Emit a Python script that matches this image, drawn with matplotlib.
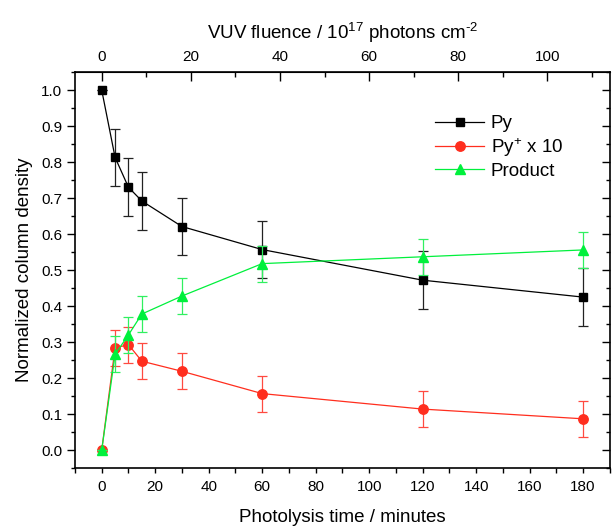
import numpy as np
import matplotlib
matplotlib.use("Agg")
import matplotlib.pyplot as plt
from matplotlib.ticker import MultipleLocator
from matplotlib.lines import TICKLEFT

plt.rcParams['font.family'] = ['Liberation Sans', 'DejaVu Sans']
plt.rcParams['mathtext.fontset'] = 'custom'
plt.rcParams['mathtext.rm'] = 'Liberation Sans'
plt.rcParams['mathtext.it'] = 'Liberation Sans:italic'

# data
time_min = [0, 5, 10, 15, 30, 60, 120, 180]
py = [1.0, 0.813, 0.730, 0.692, 0.621, 0.557, 0.472, 0.425]
py_err = [0.0, 0.08, 0.08, 0.08, 0.08, 0.08, 0.08, 0.08]
pyp = [0.0, 0.284, 0.293, 0.247, 0.219, 0.157, 0.114, 0.087]
pyp_err = [0.0, 0.05, 0.05, 0.05, 0.05, 0.05, 0.05, 0.05]
prod = [0.0, 0.266, 0.320, 0.378, 0.428, 0.518, 0.537, 0.556]
prod_err = [0.0, 0.05, 0.05, 0.05, 0.05, 0.05, 0.05, 0.05]
fluence_per_min = 0.6  # 10^17 photons cm^-2 per minute

fig = plt.figure(figsize=(6.12, 5.26), dpi=100)
ax = fig.add_axes([0.1225, 0.110, 0.874, 0.753])

red = '#ff2e1e'
green = '#00f03c'
c1 = ax.errorbar(time_min, py, yerr=py_err, color='black', marker='s', ms=6, lw=0.9,
                 elinewidth=0.9, capsize=3.5, capthick=0.9, ecolor='#222222', zorder=3)
c2 = ax.errorbar(time_min, pyp, yerr=pyp_err, color=red, marker='o', ms=6.8, lw=0.9,
                 elinewidth=0.9, capsize=3.5, capthick=0.9, ecolor='#ff4a40', zorder=3)
c3 = ax.errorbar(time_min, prod, yerr=prod_err, color=green, marker='^', ms=7.5, lw=0.9,
                 elinewidth=0.9, capsize=3.5, capthick=0.9, ecolor='#30f060', zorder=4)

ax.set_xlim(-10, 190)
ax.set_ylim(-0.05, 1.05)
ax.xaxis.set_major_locator(MultipleLocator(20))
ax.xaxis.set_minor_locator(MultipleLocator(10))
ax.yaxis.set_major_locator(MultipleLocator(0.1))
ax.yaxis.set_minor_locator(MultipleLocator(0.05))
ax.yaxis.set_major_formatter(plt.FormatStrFormatter('%.1f'))
ax.tick_params(which='both', direction='out', labelsize=11, width=1)
ax.tick_params(axis='x', which='both', length=3.6, pad=5)
ax.tick_params(axis='y', which='major', length=5.8)
ax.tick_params(axis='y', which='minor', length=3)
ax.tick_params(axis='y', which='both', right=True, labelright=False)
for s in ax.spines.values():
    s.set_linewidth(1.2)

ax.set_xlabel('Photolysis time / minutes', fontsize=13.5, labelpad=10.5)
ax.set_ylabel('Normalized column density', fontsize=13.5, labelpad=6)

# right side ticks point inward
for t in ax.yaxis.get_major_ticks() + ax.yaxis.get_minor_ticks():
    t.tick2line.set_marker(TICKLEFT)

top = ax.secondary_xaxis('top', functions=(lambda t: t * fluence_per_min,
                                            lambda f: f / fluence_per_min))
top.xaxis.set_major_locator(MultipleLocator(20))
top.xaxis.set_minor_locator(MultipleLocator(10))
top.tick_params(which='both', direction='in', labelsize=11, width=1, pad=6)
top.tick_params(which='major', length=6.5)
top.tick_params(which='minor', length=3.6)
top.set_xlabel('VUV fluence / 10$^{17}$ photons cm$^{\\text{-2}}$', fontsize=13.5, labelpad=8)

ax.legend([c1[0], c2[0], c3[0]], ['Py', 'Py$^{+}$ x 10', 'Product'],
          loc='upper right', bbox_to_anchor=(0.926, 0.91), frameon=False,
          fontsize=13.5, handlelength=2.6, handletextpad=0.35, labelspacing=0.2,
          numpoints=1, borderaxespad=0)

fig.savefig('out.png', dpi=100)
